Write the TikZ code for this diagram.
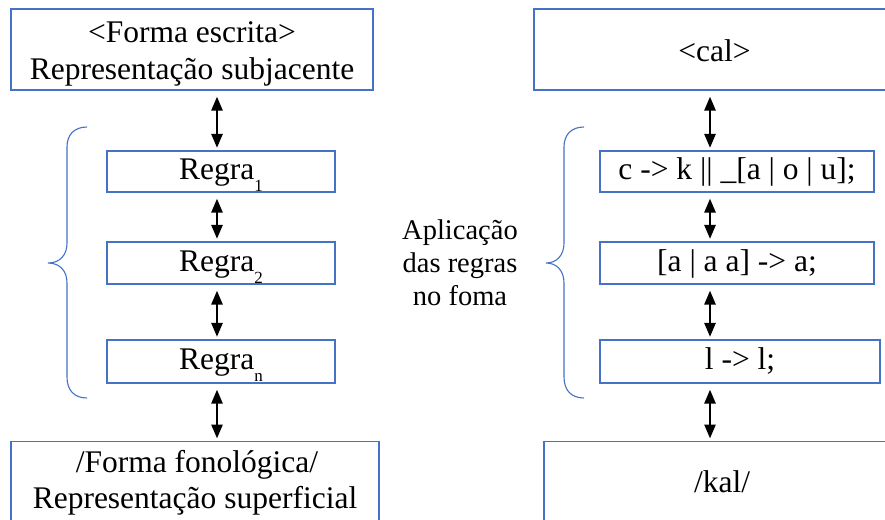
\documentclass[tikz,border=0pt]{standalone}
\usepackage{fontspec}
\setmainfont{Liberation Serif}
\usetikzlibrary{arrows.meta}
\definecolor{boxblue}{HTML}{4472C4}
\newcommand\rsub[1]{\raisebox{-12pt}[0pt][0pt]{\fontsize{17}{17}\selectfont #1}}
\tikzset{
  box/.style={draw=boxblue, line width=1.2pt, inner sep=0pt, align=center,
    font=\fontsize{31.5}{36}\selectfont},
  rulebox/.style={box, text height=23pt, text depth=7pt},
  txt/.style={inner sep=0pt, font=\fontsize{31.5}{36}\selectfont, anchor=base},
  dblarrow/.style={line width=2.6pt, {Triangle[width=11pt,length=14pt]}-{Triangle[width=11pt,length=14pt]},
    shorten <=6pt, shorten >=2.5pt},
  bracecurve/.style={draw=boxblue, line width=1.1pt},
  sidelabel/.style={align=center, inner sep=0pt, font=\fontsize{28.5}{33}\selectfont}
}
\begin{document}
\begin{tikzpicture}[x=1pt,y=-1pt]
\useasboundingbox (0,0) rectangle (885,519);
\clip (0,0) rectangle (885,519);
\fill[white] (0,0) rectangle (885,519);

% left column
\node[box, minimum width=362pt, minimum height=81pt] (lt) at (192,49.5) {};
\node[txt] (lta) at (192,43) {<Forma escrita>};
\node[txt] (ltb) at (192,79) {Representação subjacente};
\node[rulebox, minimum width=228pt, minimum height=41pt] (l1) at (221,171.5) {Regra\rsub{1}};
\node[rulebox, minimum width=228pt, minimum height=42pt] (l2) at (221,263) {Regra\rsub{2}};
\node[rulebox, minimum width=228pt, minimum height=43pt] (l3) at (221,361.5) {Regra\rsub{n}};
\node[box, minimum width=368pt, minimum height=90pt, anchor=north] (lb) at (195,441) {};
\node[txt] (lba) at (197,472) {/Forma fonológica/};
\node[txt] (lbb) at (195,508) {Representação superficial};

\coordinate (ax) at (217,0);
\draw[dblarrow] (lt.south -| ax) -- (l1.north -| ax);
\draw[dblarrow] (l1.south -| ax) -- (l2.north -| ax);
\draw[dblarrow] (l2.south -| ax) -- (l3.north -| ax);
\draw[dblarrow] (l3.south -| ax) -- (lb.north -| ax);

\draw[bracecurve] (87,127) .. controls (74,127) and (67,135) .. (67,147) -- (67,243)
  .. controls (67,255) and (60,263) .. (48,263)
  .. controls (60,263) and (67,271) .. (67,283) -- (67,377)
  .. controls (67,390) and (74,398) .. (87,398);

% right column
\node[box, minimum width=362pt, minimum height=81pt] (rt) at (715,49.5) {};
\node[txt] (rtt) at (714.5,62) {<cal>};
\node[rulebox, minimum width=274pt, minimum height=41pt] (r1) at (737,171.5) {c -> k || \_[a | o | u];};
\node[rulebox, minimum width=274pt, minimum height=42pt] (r2) at (737,263) {[a | a a] -> a;};
\node[rulebox, minimum width=280pt, minimum height=43pt] (r3) at (740,361.5) {l -> l;};
\node[box, minimum width=358pt, minimum height=90pt, anchor=north] (rb) at (723,441) {};
\node[txt] (rbt) at (722,492) {/kal/};

\coordinate (bx) at (710,0);
\draw[dblarrow] (rt.south -| bx) -- (r1.north -| bx);
\draw[dblarrow] (r1.south -| bx) -- (r2.north -| bx);
\draw[dblarrow] (r2.south -| bx) -- (r3.north -| bx);
\draw[dblarrow] (r3.south -| bx) -- (rb.north -| bx);

\draw[bracecurve] (584,127) .. controls (571,127) and (564,135) .. (564,147) -- (564,243)
  .. controls (564,255) and (557,263) .. (546,263)
  .. controls (557,263) and (564,271) .. (564,283) -- (564,377)
  .. controls (564,390) and (571,398) .. (584,398);

\node[sidelabel] (lab) at (460,263) {Aplicação\\das regras\\no foma};
\end{tikzpicture}
\end{document}
